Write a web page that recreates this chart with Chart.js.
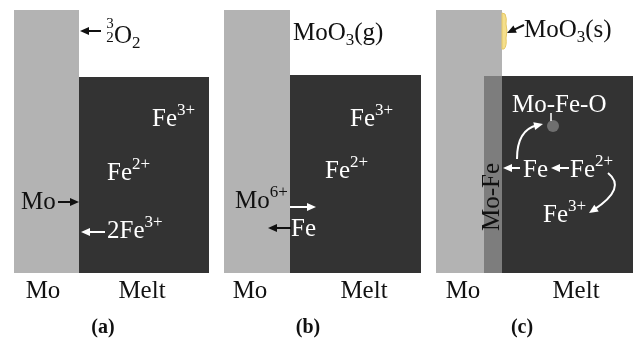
<!DOCTYPE html>
<html><head><meta charset="utf-8">
<script src="https://cdn.jsdelivr.net/npm/chart.js@4"></script>
<style>html,body{margin:0;padding:0;background:#fff}#wrap{width:638px;height:339px}</style>
</head><body><div id="wrap"><canvas id="c" width="638" height="339"></canvas></div>
<script>
// ---- diagram values (in drawing units; x 0..638, y 0..339 downward) ----
const panelLabels = ['(a)', '(b)', '(c)'];
const phaseLabels = ['Mo', 'Melt'];
const moLeft = [14, 224, 436];
const moRight = [79, 290, 502];
const moTop = [10, 10, 10];
const meltRight = [209, 421, 633];
const meltTop = [77, 75, 76];
const baseY = [273, 273, 273];
const moFeLayer = [484, 502];     // interlayer x-extent in panel (c)
const moFeOCluster = [{x: 553, y: 126}];
const panelCenters = [103, 308, 522];
const moLabelX = [43, 250, 463];
const meltLabelX = [142, 364, 576];

const C_MO = '#b3b3b3', C_MELT = '#333333', C_LAYER = '#7d7d7d';
const SERIF = '"Liberation Serif", "Times New Roman", serif';

function rich(ctx, x, y, parts, color, size) {
  ctx.fillStyle = color; ctx.textAlign = 'left'; ctx.textBaseline = 'alphabetic';
  let cx = x;
  for (const p of parts) {
    let fs = size, dy = 0;
    if (p.sup) { fs = Math.round(size * 0.68); dy = -size * 0.46; }
    if (p.sub) { fs = Math.round(size * 0.66); dy = size * 0.2; }
    ctx.font = fs + 'px ' + SERIF;
    ctx.fillText(p.t, cx, y + dy);
    cx += ctx.measureText(p.t).width;
  }
  return cx;
}
function arrow(ctx, x1, y1, x2, y2, color) {
  const a = Math.atan2(y2 - y1, x2 - x1), L = 9, W = 4;
  ctx.strokeStyle = color; ctx.fillStyle = color; ctx.lineWidth = 2;
  ctx.beginPath(); ctx.moveTo(x1, y1);
  ctx.lineTo(x2 - (L - 1) * Math.cos(a), y2 - (L - 1) * Math.sin(a)); ctx.stroke();
  head(ctx, x2, y2, a, L, W);
}
function head(ctx, x2, y2, a, L, W) {
  ctx.beginPath(); ctx.moveTo(x2, y2);
  ctx.lineTo(x2 - L * Math.cos(a) + W * Math.sin(a), y2 - L * Math.sin(a) - W * Math.cos(a));
  ctx.lineTo(x2 - L * Math.cos(a) - W * Math.sin(a), y2 - L * Math.sin(a) + W * Math.cos(a));
  ctx.closePath(); ctx.fill();
}
function curved(ctx, x1, y1, cx, cy, x2, y2, color) {
  const a = Math.atan2(y2 - cy, x2 - cx);
  ctx.strokeStyle = color; ctx.fillStyle = color; ctx.lineWidth = 2;
  ctx.beginPath(); ctx.moveTo(x1, y1);
  ctx.quadraticCurveTo(cx, cy, x2 - 6 * Math.cos(a), y2 - 6 * Math.sin(a)); ctx.stroke();
  head(ctx, x2, y2, a, 9, 4);
}

const diagram = {
  id: 'diagram',
  beforeDatasetsDraw(chart) {
    const ctx = chart.ctx, X = v => chart.scales.x.getPixelForValue(v), Y = v => chart.scales.y.getPixelForValue(v);
    ctx.save();
    for (let i = 0; i < 3; i++) {
      ctx.fillStyle = C_MO;
      ctx.fillRect(X(moLeft[i]), Y(moTop[i]), X(moRight[i]) - X(moLeft[i]), Y(baseY[i]) - Y(moTop[i]));
      const ml = i === 2 ? moFeLayer[1] : moRight[i];
      ctx.fillStyle = C_MELT;
      ctx.fillRect(X(ml), Y(meltTop[i]), X(meltRight[i]) - X(ml), Y(baseY[i]) - Y(meltTop[i]));
    }
    ctx.fillStyle = C_LAYER;
    ctx.fillRect(X(moFeLayer[0]), Y(meltTop[2]), X(moFeLayer[1]) - X(moFeLayer[0]), Y(baseY[2]) - Y(meltTop[2]));
    // MoO3(s) deposit
    ctx.fillStyle = '#f5df8c'; ctx.strokeStyle = '#e6c865'; ctx.lineWidth = 1;
    ctx.beginPath();
    ctx.moveTo(X(502), Y(13)); ctx.lineTo(X(505), Y(14)); ctx.quadraticCurveTo(X(507), Y(18), X(506), Y(24));
    ctx.quadraticCurveTo(X(508), Y(31), X(506), Y(38)); ctx.quadraticCurveTo(X(507), Y(46), X(504), Y(49));
    ctx.lineTo(X(502), Y(49)); ctx.closePath(); ctx.fill(); ctx.stroke();
    ctx.restore();
  },
  afterDatasetsDraw(chart) {
    const ctx = chart.ctx, X = v => chart.scales.x.getPixelForValue(v), Y = v => chart.scales.y.getPixelForValue(v);
    ctx.save();
    const K = '#111', Wh = '#ffffff';
    // bottom labels
    for (let i = 0; i < 3; i++) {
      ctx.fillStyle = K; ctx.textAlign = 'center'; ctx.textBaseline = 'alphabetic';
      ctx.font = '25px ' + SERIF;
      ctx.fillText(phaseLabels[0], X(moLabelX[i]), Y(298));
      ctx.fillText(phaseLabels[1], X(meltLabelX[i]), Y(298));
      ctx.font = 'bold 20px ' + SERIF;
      ctx.fillText(panelLabels[i], X(panelCenters[i]), Y(333));
    }
    // ---- panel (a)
    arrow(ctx, X(101), Y(31), X(80), Y(31), K);
    ctx.fillStyle = K; ctx.textAlign = 'center'; ctx.font = '15px ' + SERIF;
    ctx.fillText('3', X(110), Y(28)); ctx.fillText('2', X(110), Y(42));
    rich(ctx, X(114), Y(43), [{t: 'O'}, {t: '2', sub: true}], K, 25);
    rich(ctx, X(152), Y(126), [{t: 'Fe'}, {t: '3+', sup: true}], Wh, 25);
    rich(ctx, X(107), Y(180), [{t: 'Fe'}, {t: '2+', sup: true}], Wh, 25);
    rich(ctx, X(21), Y(209), [{t: 'Mo'}], K, 25);
    arrow(ctx, X(58), Y(202), X(79), Y(202), K);
    arrow(ctx, X(105), Y(232), X(81), Y(232), Wh);
    rich(ctx, X(107), Y(238), [{t: '2Fe'}, {t: '3+', sup: true}], Wh, 25);
    // ---- panel (b)
    rich(ctx, X(293), Y(40), [{t: 'MoO'}, {t: '3', sub: true}, {t: '(g)'}], K, 25);
    rich(ctx, X(350), Y(126), [{t: 'Fe'}, {t: '3+', sup: true}], Wh, 25);
    rich(ctx, X(325), Y(178), [{t: 'Fe'}, {t: '2+', sup: true}], Wh, 25);
    rich(ctx, X(235), Y(208), [{t: 'Mo'}, {t: '6+', sup: true}], K, 25);
    arrow(ctx, X(290), Y(207), X(316), Y(207), Wh);
    arrow(ctx, X(291), Y(228), X(268), Y(228), K);
    rich(ctx, X(291), Y(236), [{t: 'Fe'}], Wh, 25);
    // ---- panel (c)
    arrow(ctx, X(524), Y(25), X(507), Y(33), K);
    rich(ctx, X(524), Y(37), [{t: 'MoO'}, {t: '3', sub: true}, {t: '(s)'}], K, 25);
    rich(ctx, X(512), Y(112), [{t: 'Mo-Fe-O'}], Wh, 25);
    ctx.strokeStyle = Wh; ctx.lineWidth = 1.5;
    ctx.beginPath(); ctx.moveTo(X(551), Y(113)); ctx.lineTo(X(551), Y(121)); ctx.stroke();
    curved(ctx, X(517), Y(159), X(517), Y(130), X(543), Y(124), Wh);
    arrow(ctx, X(520), Y(168), X(503), Y(168), Wh);
    rich(ctx, X(523), Y(177), [{t: 'Fe'}], Wh, 25);
    arrow(ctx, X(569), Y(168), X(551), Y(168), Wh);
    rich(ctx, X(570), Y(177), [{t: 'Fe'}, {t: '2+', sup: true}], Wh, 25);
    curved(ctx, X(608), Y(173), X(627), Y(188), X(589), Y(213), Wh);
    rich(ctx, X(543), Y(222), [{t: 'Fe'}, {t: '3+', sup: true}], Wh, 25);
    // rotated Mo-Fe
    ctx.save();
    ctx.translate(X(499), Y(231)); ctx.rotate(-Math.PI / 2);
    rich(ctx, 0, 0, [{t: 'Mo-Fe'}], K, 25);
    ctx.restore();
    ctx.restore();
  }
};

new Chart(document.getElementById('c'), {
  type: 'scatter',
  data: { datasets: [{
    data: moFeOCluster, pointRadius: 6, pointBackgroundColor: '#6f6f6f', pointBorderWidth: 0, pointHoverRadius: 6
  }]},
  options: {
    responsive: false, animation: false, events: [],
    layout: { padding: 0, autoPadding: false },
    plugins: { legend: { display: false }, tooltip: { enabled: false } },
    scales: {
      x: { type: 'linear', min: 0, max: 638, display: false },
      y: { type: 'linear', min: 0, max: 339, reverse: true, display: false }
    }
  },
  plugins: [diagram]
});
</script></body></html>
